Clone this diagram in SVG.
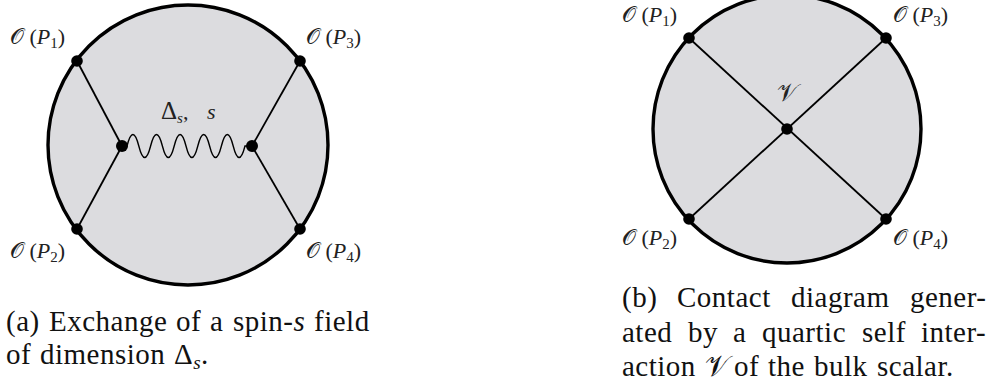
<svg xmlns="http://www.w3.org/2000/svg" width="990" height="387" viewBox="0 0 990 387">
<style>
.bulk{fill:#dcdcdf;stroke:#000;stroke-width:3.4}
.ln{stroke:#000;stroke-width:1.8;fill:none}
.wave{stroke:#000;stroke-width:1.4;fill:none}
.dot{fill:#000}
.lab{font-family:"Liberation Serif","DejaVu Serif",serif;font-size:22px;fill:#222}
.cap{font-family:"Liberation Serif","DejaVu Serif",serif;font-size:29px;letter-spacing:0.5px;fill:#111}
.it{font-style:italic}
.sub{font-size:15px}
</style>
<rect width="990" height="387" fill="#fff"/>
<!-- (a) exchange diagram -->
<g id="bulk-a"><circle class="bulk" cx="188" cy="145" r="140"/></g>
<g id="connectors-a">
<line class="ln" x1="77" y1="61" x2="122" y2="146"/>
<line class="ln" x1="77" y1="229" x2="122" y2="146"/>
<line class="ln" x1="300" y1="61" x2="252" y2="146"/>
<line class="ln" x1="300" y1="229" x2="252" y2="146"/>
<path class="wave" d="M122,146 L127,146 Q132.9,123 138.8,146 T150.6,146 T162.4,146 T174.2,146 T186,146 T197.8,146 T209.6,146 T221.4,146 T233.2,146 T245,146 L252,146"/>
</g>
<g id="a-P1"><circle class="dot" cx="77" cy="61" r="5.8"/><text class="lab" x="10" y="44">𝒪 (<tspan class="it">P</tspan><tspan class="sub" dy="4">1</tspan><tspan dy="-4">)</tspan></text></g>
<g id="a-P3"><circle class="dot" cx="300" cy="61" r="5.8"/><text class="lab" x="306" y="44">𝒪 (<tspan class="it">P</tspan><tspan class="sub" dy="4">3</tspan><tspan dy="-4">)</tspan></text></g>
<g id="a-P2"><circle class="dot" cx="77" cy="229" r="5.8"/><text class="lab" x="10" y="258">𝒪 (<tspan class="it">P</tspan><tspan class="sub" dy="4">2</tspan><tspan dy="-4">)</tspan></text></g>
<g id="a-P4"><circle class="dot" cx="300" cy="229" r="5.8"/><text class="lab" x="306" y="258">𝒪 (<tspan class="it">P</tspan><tspan class="sub" dy="4">4</tspan><tspan dy="-4">)</tspan></text></g>
<g id="a-vL"><circle class="dot" cx="122" cy="146" r="6"/></g>
<g id="a-vR"><circle class="dot" cx="252" cy="146" r="6"/></g>
<g id="a-label"><text class="lab" x="161" y="119"><tspan style="font-size:25px">Δ</tspan><tspan class="sub it" dy="4">s</tspan><tspan dy="-4">,</tspan><tspan class="it" x="207">s</tspan></text></g>
<!-- (b) contact diagram -->
<g id="bulk-b"><circle class="bulk" cx="787" cy="129" r="134"/></g>
<g id="connectors-b">
<line class="ln" x1="689" y1="38" x2="886" y2="219"/>
<line class="ln" x1="886" y1="38" x2="689" y2="219"/>
</g>
<g id="b-P1"><circle class="dot" cx="689" cy="38" r="5.8"/><text class="lab" x="622" y="22">𝒪 (<tspan class="it">P</tspan><tspan class="sub" dy="4">1</tspan><tspan dy="-4">)</tspan></text></g>
<g id="b-P3"><circle class="dot" cx="886" cy="38" r="5.8"/><text class="lab" x="893" y="22">𝒪 (<tspan class="it">P</tspan><tspan class="sub" dy="4">3</tspan><tspan dy="-4">)</tspan></text></g>
<g id="b-P2"><circle class="dot" cx="689" cy="219" r="5.8"/><text class="lab" x="622" y="245">𝒪 (<tspan class="it">P</tspan><tspan class="sub" dy="4">2</tspan><tspan dy="-4">)</tspan></text></g>
<g id="b-P4"><circle class="dot" cx="886" cy="219" r="5.8"/><text class="lab" x="893" y="245">𝒪 (<tspan class="it">P</tspan><tspan class="sub" dy="4">4</tspan><tspan dy="-4">)</tspan></text></g>
<g id="b-V"><circle class="dot" cx="787" cy="129" r="5.8"/><text class="lab" x="777" y="101" style="font-size:25px">𝒱</text></g>
<!-- captions -->
<g id="caption-a">
<text class="cap" y="331"><tspan x="6">(a)</tspan><tspan x="49">Exchange</tspan><tspan x="176">of</tspan><tspan x="210">a</tspan><tspan x="233">spin-</tspan><tspan class="it">s</tspan><tspan x="314">field</tspan></text>
<text class="cap" y="364"><tspan x="6">of</tspan><tspan x="40">dimension</tspan><tspan x="174">Δ</tspan><tspan class="it" style="font-size:19px" dy="5">s</tspan><tspan dy="-5">.</tspan></text>
</g>
<g id="caption-b">
<text class="cap" y="307"><tspan x="622">(b)</tspan><tspan x="677">Contact</tspan><tspan x="791">diagram</tspan><tspan x="910">gener-</tspan></text>
<text class="cap" y="342"><tspan x="622">ated</tspan><tspan x="688">by</tspan><tspan x="733">a</tspan><tspan x="762">quartic</tspan><tspan x="862">self</tspan><tspan x="921">inter-</tspan></text>
<text class="cap" y="376"><tspan x="622">action</tspan><tspan x="705">𝒱</tspan><tspan x="734">of</tspan><tspan x="768">the</tspan><tspan x="814">bulk</tspan><tspan x="877">scalar.</tspan></text>
</g>
</svg>
